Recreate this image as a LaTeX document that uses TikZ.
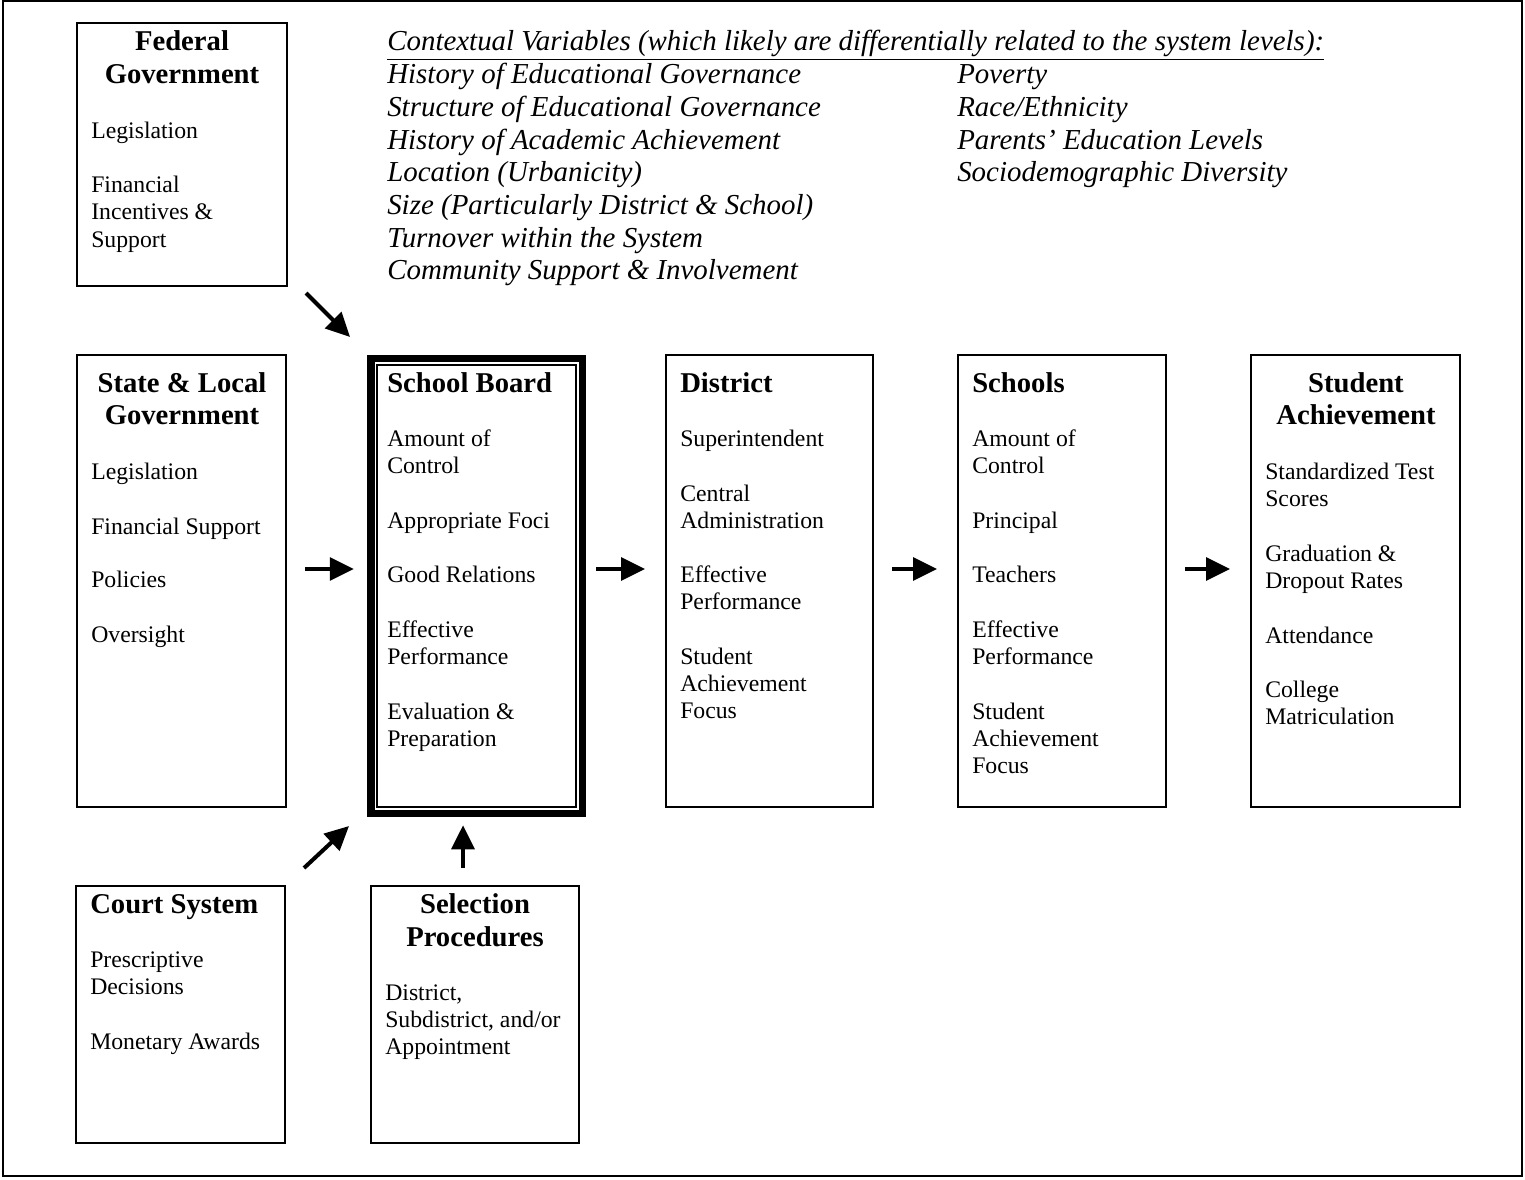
\documentclass[tikz,border=0pt]{standalone}
\usepackage{fontspec}
\setmainfont{Liberation Serif}
\usetikzlibrary{arrows.meta,calc}
\tikzset{
  box/.style={draw, line width=1.5pt, rectangle, inner sep=0pt, outer sep=0pt},
  body/.style={anchor=west, inner sep=0pt, font=\fontsize{17.8}{20}\selectfont, text height=11.7pt, text depth=0pt},
  titlec/.style={anchor=center, inner sep=0pt, font=\fontsize{21.5}{24}\selectfont\bfseries, text height=14.5pt, text depth=0pt},
  titlel/.style={titlec, anchor=west},
  ctx/.style={anchor=west, inner sep=0pt, font=\fontsize{21.7}{24}\selectfont\itshape, text height=14.6pt, text depth=0pt},
  arr/.style={line width=3pt, -{Triangle[length=18pt,width=17pt]}},
}
\newcommand\bodylines[3]{\foreach \yy/\txt [count=\ii] in {#3} {\node[body] (#1\ii) at (#2,\yy) {\txt};}}
\begin{document}
\begin{tikzpicture}[x=0.75pt,y=-0.75pt]
\useasboundingbox (0,0) rectangle (1525,1179);
\draw[line width=1.5pt] (3,1) rectangle (1522,1176);

% boxes
\node[box, minimum width=157.5pt, minimum height=197.25pt] (fed) at (182,154.5) {};
\node[box, minimum width=156.75pt, minimum height=339pt] (state) at (181.5,581) {};
\node[box, line width=5.6pt, minimum width=158.6pt, minimum height=340.9pt] (sb) at (476.5,586) {};
\draw[line width=1.5pt] ($(sb.north west)+(6.5,6.5)$) rectangle ($(sb.south east)+(-6.5,-6.5)$);
\node[box, minimum width=155.25pt, minimum height=339pt] (dist) at (769.5,581) {};
\node[box, minimum width=156pt, minimum height=339pt] (schools) at (1062,581) {};
\node[box, minimum width=156.75pt, minimum height=339pt] (sa) at (1355.5,581) {};
\node[box, minimum width=156.75pt, minimum height=192.75pt] (court) at (180.5,1014.5) {};
\node[box, minimum width=156pt, minimum height=192.75pt] (sel) at (475,1014.5) {};

% titles
\node[titlec] (fedt1) at (182,41) {Federal};
\node[titlec] (fedt2) at (182,74) {Government};
\node[titlec] (statet1) at (182,383) {State \& Local};
\node[titlec] (statet2) at (182,415) {Government};
\node[titlel] (sbt) at (387,383) {School Board};
\node[titlel] (distt) at (680,383) {District};
\node[titlel] (schoolst) at (972,383) {Schools};
\node[titlec] (sat1) at (1356,383) {Student};
\node[titlec] (sat2) at (1356,415) {Achievement};
\node[titlel] (courtt) at (90,904) {Court System};
\node[titlec] (selt1) at (475,904) {Selection};
\node[titlec] (selt2) at (475,937) {Procedures};

% body lines
\bodylines{fedb}{91}{131/Legislation, 185/Financial, 212/Incentives \&, 240/Support}
\bodylines{stateb}{91}{472/Legislation, 527/Financial Support, 580/Policies, 635/Oversight}
\bodylines{sbb}{387}{439/Amount of, 466/Control, 521/Appropriate Foci, 575/Good Relations, 630/Effective, 657/Performance, 712/Evaluation \&, 739/Preparation}
\bodylines{distb}{680}{439/Superintendent, 494/Central, 521/Administration, 575/Effective, 602/Performance, 657/Student, 684/Achievement, 711/Focus}
\bodylines{schoolsb}{972}{439/Amount of, 466/Control, 521/Principal, 575/Teachers, 630/Effective, 657/Performance, 712/Student, 739/Achievement, 766/Focus}
\bodylines{sab}{1265}{472/Standardized Test, 499/Scores, 554/Graduation \&, 581/Dropout Rates, 636/Attendance, 690/College, 717/Matriculation}
\bodylines{courtb}{90}{960/Prescriptive, 987/Decisions, 1042/Monetary Awards}
\bodylines{selb}{385}{993/{District,}, 1020/{Subdistrict, and/or}, 1047/Appointment}

% contextual variables
\node[ctx] (ctxh) at (387,41) {\underline{Contextual Variables (which likely are differentially related to the system levels):}};
\foreach \yy/\txt [count=\ii] in {74/History of Educational Governance, 107/Structure of Educational Governance, 140/History of Academic Achievement, 172/Location (Urbanicity), 205/Size (Particularly District \& School), 238/Turnover within the System, 270/Community Support \& Involvement} {\node[ctx] (ctxa\ii) at (387,\yy) {\txt};}
\foreach \yy/\txt [count=\ii] in {74/Poverty, 107/{Race/Ethnicity}, 140/Parents’ Education Levels, 172/Sociodemographic Diversity} {\node[ctx] (ctxb\ii) at (957,\yy) {\txt};}

% arrows
\coordinate (row) at (0,569);
\draw[arr] ($(fed.south east)+(19,7)$) -- ($(sb.north west)+(-20.75,-21.75)$);
\draw[arr, shorten <=14.25pt, shorten >=12.75pt] (state.east |- row) -- (sb.west |- row);
\draw[arr, shorten <=10.5pt, shorten >=15.75pt] (sb.east |- row) -- (dist.west |- row);
\draw[arr, shorten <=14.25pt, shorten >=15.75pt] (dist.east |- row) -- (schools.west |- row);
\draw[arr, shorten <=14.25pt, shorten >=15.75pt] (schools.east |- row) -- (sa.west |- row);
\draw[arr] ($(court.north east)+(19,-18)$) -- ($(sb.south west)+(-21.75,12.75)$);
\draw[arr] ($(sel.north)+(-12,-18)$) -- ($(sb.south)+(-13.5,12)$);
\end{tikzpicture}
\end{document}
